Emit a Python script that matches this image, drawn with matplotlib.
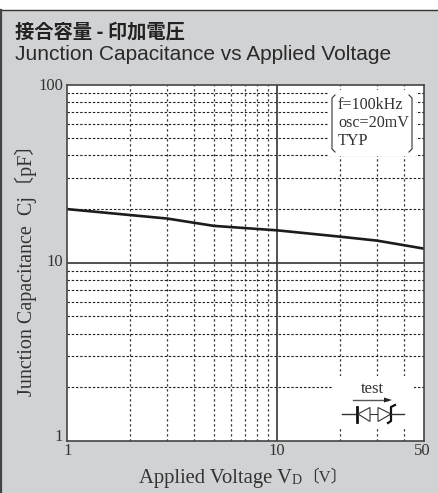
import matplotlib
matplotlib.use("Agg")
import matplotlib.pyplot as plt
from matplotlib.patches import Rectangle, Polygon

W, H = 439, 493

voltage = [1, 3, 5, 10, 20, 30, 50]
capacitance = [20, 17.7, 16.1, 15.2, 14.0, 13.3, 12.0]
x_ticks = [1, 10, 50]
x_tick_labels = ["1", "10", "50"]
y_ticks = [1, 10, 100]
y_tick_labels = ["1", "10", "100"]
x_minor = [2, 3, 4, 5, 6, 7, 8, 9, 20, 30, 40]
y_minor = [2, 3, 4, 5, 6, 7, 8, 9, 20, 30, 40, 50, 60, 70, 80, 90]

GRAY = "#d1d2d4"
INK = "#333333"
SERIF = "Liberation Serif"


def px_rect(x0, y0, x1, y1):
    # pixel box (top-left origin) to figure fractions
    return [x0 / W, 1 - y1 / H, (x1 - x0) / W, (y1 - y0) / H]


fig = plt.figure(figsize=(W / 100, H / 100), dpi=100, facecolor="white")

# grey panel with dark top and left edges
fig.add_artist(Rectangle((2 / W, 0), 1, 1 - 10 / H, transform=fig.transFigure, fc=GRAY, ec="none", zorder=-2))
fig.add_artist(plt.Line2D([0, 1], [1 - 10 / H] * 2, transform=fig.transFigure, color="#333333", lw=1.0, zorder=-1))
fig.add_artist(plt.Line2D([1.5 / W] * 2, [0, 1 - 10 / H], transform=fig.transFigure, color="#444444", lw=1.6, zorder=-1))

ax = fig.add_axes(px_rect(67, 84.5, 424, 441))
ax.set_xscale("log")
ax.set_yscale("log")
ax.set_xlim(1, 50)
ax.set_ylim(1, 100)
ax.set_facecolor("white")

for v in x_minor:
    ax.axvline(v, color="#333333", lw=0.9, ls=(0, (1.8, 2.2)), zorder=1)
for v in y_minor:
    ax.axhline(v, color="#222222", lw=0.8, ls=(0, (2.2, 1.6)), zorder=1)
ax.axvline(10, color="#444444", lw=1.3, zorder=2)
ax.axhline(10, color="#333333", lw=1.2, zorder=2)

# white blocks that interrupt the grid behind the notes
for box in [(328, 90, 416, 156), (333, 376, 414, 428)]:
    ax.add_patch(Rectangle((box[0] / W, 1 - box[3] / H), (box[2] - box[0]) / W, (box[3] - box[1]) / H,
                           transform=fig.transFigure, fc="white", ec="none", zorder=3))

ax.plot(voltage, capacitance, color="#1c1c1c", lw=1.9, zorder=4, solid_capstyle="butt")

ax.set_xticks(x_ticks)
ax.set_yticks(y_ticks)
ax.minorticks_off()
ax.tick_params(which="both", length=0, labelbottom=False, labelleft=False)
for s in ax.spines.values():
    s.set_color("#444444")
    s.set_linewidth(1.2)
    s.set_zorder(5)


def px_text(x, y, s, **kw):
    kw.setdefault("family", SERIF)
    kw.setdefault("color", INK)
    return fig.text(x / W, 1 - y / H, s, **kw)


px_text(15, 32, "接合容量 - 印加電圧", family=["Noto Sans CJK JP", "Liberation Sans"],
        fontsize=13.9, fontweight="bold", color="#222222", va="center")
px_text(15, 54, "Junction Capacitance vs Applied Voltage", family="Liberation Sans",
        fontsize=15, color="#2a2a2a", va="center")

for x, label in zip([68, 277, 422], x_tick_labels):
    px_text(x, 451, label, fontsize=12, ha="center", va="center")
for y, label in zip([437, 262, 86], y_tick_labels):
    px_text(63, y, label, fontsize=12, ha="right", va="center")

px_text(292, 478, "Applied Voltage V", fontsize=14.9, ha="right", va="center")
px_text(292, 480, "D", fontsize=10, ha="left", va="center")
px_text(347, 477, "〔V〕", family=[SERIF, "Noto Sans CJK JP"], fontsize=12, ha="right", va="center")
px_text(26, 265, "Junction Capacitance  Cj〔pF〕", family=[SERIF, "Noto Sans CJK JP"],
        fontsize=14.5, rotation=90, ha="center", va="center")

# condition note
for y, line in zip([105, 123, 141], ["f=100kHz", "osc=20mV", "TYP"]):
    px_text(338, y, line, fontsize=11.6, va="center")


def ink(xs, ys, lw=1.0, color="#333333"):
    fig.add_artist(plt.Line2D([v / W for v in xs], [1 - v / H for v in ys],
                              transform=fig.transFigure, color=color, lw=lw, zorder=6))


ink([335, 332, 332, 335], [95, 98, 149, 152], lw=0.8)
ink([409, 412, 412, 409], [95, 98, 149, 152], lw=0.8)

# test direction arrow and back-to-back diode symbol
px_text(372.5, 389, "test", fontsize=12, ha="center", va="center")
ink([353, 388], [400, 400], lw=1.0, color="#555555")
fig.add_artist(Polygon([(x / W, 1 - y / H) for x, y in [(392, 400), (384, 397.5), (384, 402.5)]],
                       transform=fig.transFigure, fc="#222222", ec="none", zorder=6))
ink([342, 357], [414, 414], lw=1.0)
ink([357, 357], [407, 422], lw=2.0, color="#111111")
fig.add_artist(Polygon([(x / W, 1 - y / H) for x, y in [(358, 414), (370, 407.5), (370, 421.5)]],
                       transform=fig.transFigure, fc="white", ec="#333333", lw=0.8, zorder=6))
ink([370, 378], [414, 414], lw=0.8)
fig.add_artist(Polygon([(x / W, 1 - y / H) for x, y in [(391, 414), (378, 407.5), (378, 421.5)]],
                       transform=fig.transFigure, fc="white", ec="#333333", lw=0.8, zorder=6))
ink([395, 391, 391, 388], [405, 407, 421, 423], lw=1.6, color="#111111")
ink([391, 404], [414, 414], lw=1.0)

fig.savefig("out.png", dpi=100, facecolor=fig.get_facecolor())
